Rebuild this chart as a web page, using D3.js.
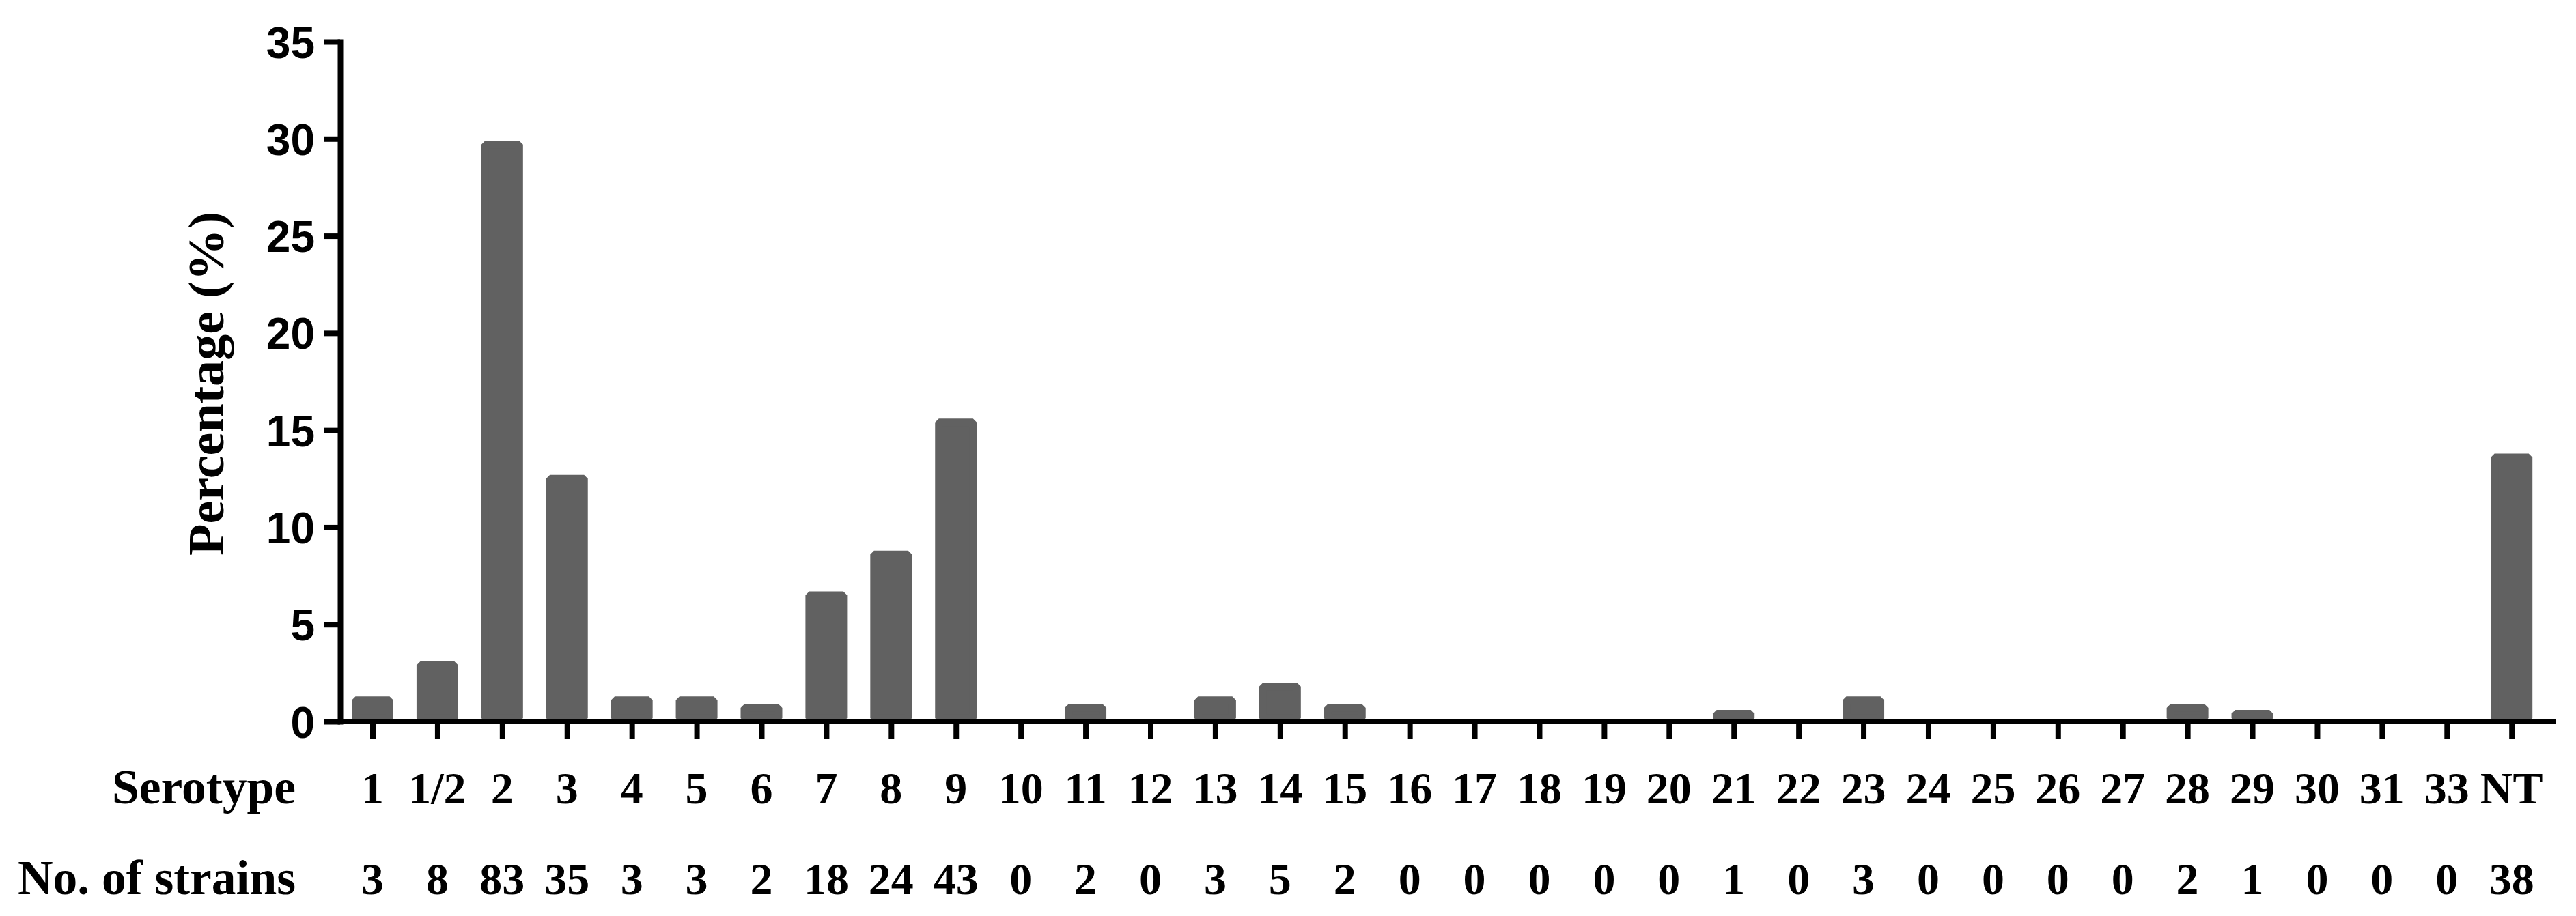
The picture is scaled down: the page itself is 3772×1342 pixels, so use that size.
<!DOCTYPE html>
<html>
<head>
<meta charset="utf-8">
<script src="https://cdn.jsdelivr.net/npm/d3@7"></script>
<style>
body { margin: 0; background: #fff; }
</style>
</head>
<body>
<svg id="chart" width="3772" height="1342"></svg>
<script>
// serotype distribution bar chart

var serotypes = ["1", "1/2", "2", "3", "4", "5", "6", "7", "8", "9", "10", "11", "12", "13", "14", "15", "16",
	"17", "18", "19", "20", "21", "22", "23", "24", "25", "26", "27", "28", "29", "30", "31", "33", "NT"];
var strains = [3, 8, 83, 35, 3, 3, 2, 18, 24, 43, 0, 2, 0, 3, 5, 2, 0,
	0, 0, 0, 0, 1, 0, 3, 0, 0, 0, 0, 2, 1, 0, 0, 0, 38];
var percent = [1.1, 2.9, 29.7, 12.5, 1.1, 1.1, 0.7, 6.5, 8.6, 15.4, 0, 0.7, 0, 1.1, 1.8, 0.7, 0,
	0, 0, 0, 0, 0.4, 0, 1.1, 0, 0, 0, 0, 0.7, 0.4, 0, 0, 0, 13.6];
var yTicks = [0, 5, 10, 15, 20, 25, 30, 35];

var svg = d3.select("#chart");
var serif = "'Liberation Serif', 'Times New Roman', serif";

var xScale = d3.scalePoint()
	.domain(serotypes)
	.range([545.5, 3677.7]);

var yScale = d3.scaleLinear()
	.domain([0, 35])
	.range([1057, 61]);

var barData = serotypes.map(function (s, i) {
	return { serotype: s, value: percent[i], count: strains[i] };
});

// bars (stroke with bevel joins gives the cut corners)
svg.append("g")
	.selectAll("rect")
	.data(barData.filter(function (d) { return d.value > 0; }))
	.enter()
	.append("rect")
	.attr("x", function (d) { return xScale(d.serotype) - 25; })
	.attr("width", 50)
	.attr("y", function (d) { return yScale(d.value); })
	.attr("height", function (d) { return yScale(0) - yScale(d.value) - 5; })
	.style("fill", "#616161")
	.style("stroke", "#616161")
	.style("stroke-width", 11)
	.style("stroke-linejoin", "bevel");

// y axis
var yAxis = svg.append("g")
	.attr("transform", "translate(498,0)")
	.call(d3.axisLeft(yScale)
		.tickValues(yTicks)
		.tickSize(24)
		.tickSizeOuter(0)
		.tickPadding(13));
yAxis.select(".domain")
	.style("stroke", "black")
	.style("stroke-width", 8)
	.style("stroke-linecap", "square");
yAxis.selectAll(".tick line")
	.style("stroke", "black")
	.style("stroke-width", 8);
yAxis.selectAll(".tick text")
	.attr("dy", "0.36em")
	.style("font-family", "'Liberation Sans', Arial, sans-serif")
	.style("font-weight", "bold")
	.style("font-size", "64px")
	.style("fill", "black");

// x axis
var xAxis = svg.append("g")
	.attr("transform", "translate(0,1057)")
	.call(d3.axisBottom(xScale)
		.tickSize(25)
		.tickFormat(""));
xAxis.select(".domain").remove();
xAxis.selectAll(".tick line")
	.style("stroke", "black")
	.style("stroke-width", 8);
svg.append("line")
	.style("stroke", "black")
	.style("stroke-width", 8)
	.attr("x1", 474)
	.attr("y1", 1057)
	.attr("x2", 3743)
	.attr("y2", 1057);

// y axis title
svg.append("text")
	.text("Percentage (%)")
	.attr("transform", "translate(327,562) rotate(-90)")
	.attr("text-anchor", "middle")
	.attr("textLength", 504)
	.attr("lengthAdjust", "spacingAndGlyphs")
	.style("font-family", serif)
	.style("font-weight", "bold")
	.style("font-size", "75px");

// row titles
svg.append("text")
	.text("Serotype")
	.attr("x", 433)
	.attr("y", 1177)
	.attr("text-anchor", "end")
	.attr("textLength", 269)
	.attr("lengthAdjust", "spacingAndGlyphs")
	.style("font-family", serif)
	.style("font-weight", "bold")
	.style("font-size", "72px");
svg.append("text")
	.text("No. of strains")
	.attr("x", 433)
	.attr("y", 1310)
	.attr("text-anchor", "end")
	.attr("textLength", 407)
	.attr("lengthAdjust", "spacingAndGlyphs")
	.style("font-family", serif)
	.style("font-weight", "bold")
	.style("font-size", "72px");

// serotype labels and strain counts
svg.append("g")
	.selectAll("text")
	.data(barData)
	.enter()
	.append("text")
	.text(function (d) { return d.serotype; })
	.attr("x", function (d) { return xScale(d.serotype); })
	.attr("y", 1177)
	.attr("text-anchor", "middle")
	.style("font-family", serif)
	.style("font-weight", "bold")
	.style("font-size", "66px");

svg.append("g")
	.selectAll("text")
	.data(barData)
	.enter()
	.append("text")
	.text(function (d) { return d.count; })
	.attr("x", function (d) { return xScale(d.serotype); })
	.attr("y", 1310)
	.attr("text-anchor", "middle")
	.style("font-family", serif)
	.style("font-weight", "bold")
	.style("font-size", "66px");
</script>
</body>
</html>
